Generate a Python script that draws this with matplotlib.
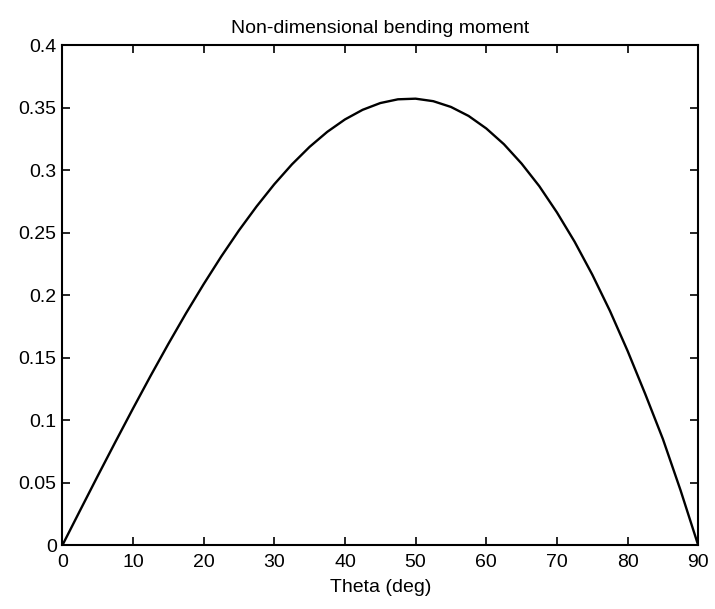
import matplotlib
matplotlib.use("Agg")
import matplotlib.pyplot as plt

# values
theta_deg = [0, 2.5, 5, 7.5, 10, 12.5, 15, 17.5, 20, 22.5, 25, 27.5, 30,
             32.5, 35, 37.5, 40, 42.5, 45, 47.5, 50, 52.5, 55, 57.5, 60,
             62.5, 65, 67.5, 70, 72.5, 75, 77.5, 80, 82.5, 85, 87.5, 90]
moment = [0.0, 0.0278, 0.0554, 0.0826, 0.1094, 0.1356, 0.1610, 0.1855,
          0.2088, 0.2310, 0.2518, 0.2710, 0.2887, 0.3046, 0.3186, 0.3306,
          0.3405, 0.3482, 0.3536, 0.3566, 0.3571, 0.3551, 0.3505, 0.3433,
          0.3333, 0.3207, 0.3052, 0.2872, 0.2662, 0.2428, 0.2165, 0.1875,
          0.1555, 0.1210, 0.0850, 0.0440, 0.0]

x_ticks = [0, 10, 20, 30, 40, 50, 60, 70, 80, 90]
y_ticks = [0, 0.05, 0.1, 0.15, 0.2, 0.25, 0.3, 0.35, 0.4]
y_labels = ["0", "0.05", "0.1", "0.15", "0.2", "0.25", "0.3", "0.35", "0.4"]

plt.rcParams["font.family"] = ["Liberation Sans", "DejaVu Sans"]

fig = plt.figure(figsize=(7.15, 6.09), dpi=100)
ax = fig.add_axes([0.0871, 0.1043, 0.8895, 0.8218])

ax.plot(theta_deg, moment, color="black", linewidth=1.7)

ax.set_xlim(0, 90)
ax.set_ylim(0, 0.4)
ax.set_xticks(x_ticks)
ax.set_yticks(y_ticks)
ax.set_yticklabels(y_labels)
ax.tick_params(direction="in", length=6, width=1.2, labelsize=14,
               top=True, right=True)
ax.tick_params(axis="x", pad=6)
ax.tick_params(axis="y", pad=4)
for s in ax.spines.values():
    s.set_linewidth(1.5)

ax.set_title("Non-dimensional bending moment", fontsize=14, pad=9)
ax.set_xlabel("Theta (deg)", fontsize=14, labelpad=6)

fig.savefig("out.png", dpi=100)
